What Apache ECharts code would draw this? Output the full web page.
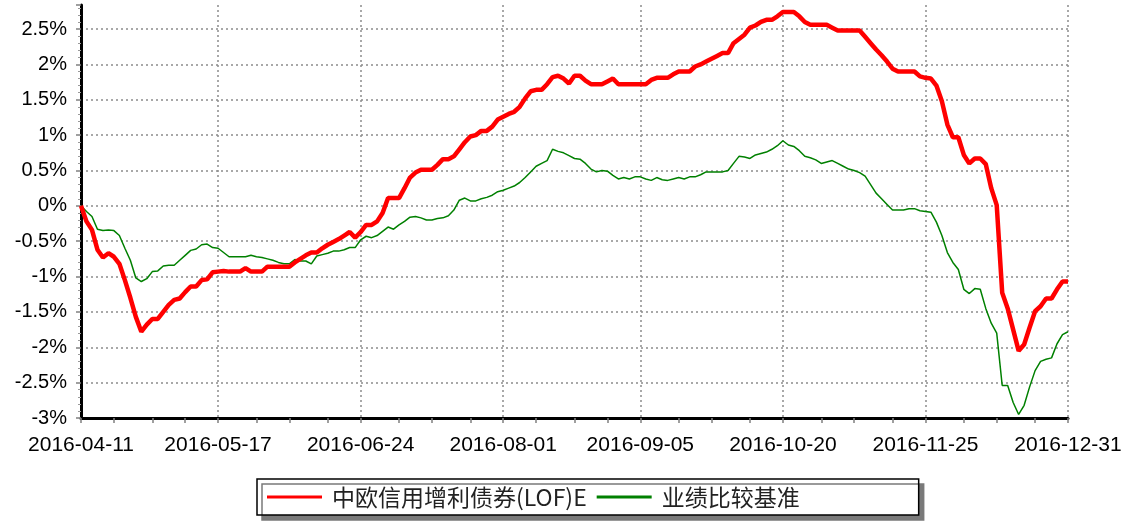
<!DOCTYPE html>
<html><head><meta charset="utf-8">
<script src="https://cdn.jsdelivr.net/npm/echarts@6/dist/echarts.min.js"></script>
<style>html,body{margin:0;padding:0;background:#fff}#c{width:1125px;height:521px}</style>
</head><body><div id="c"></div>
<script>
const dates = [
'2016-04-11','2016-04-12','2016-04-13','2016-04-14','2016-04-15','2016-04-18','2016-04-19','2016-04-20','2016-04-21','2016-04-22','2016-04-25','2016-04-26','2016-04-27','2016-04-28','2016-04-29',
'2016-05-03','2016-05-04','2016-05-05','2016-05-06','2016-05-09','2016-05-10','2016-05-11','2016-05-12','2016-05-13','2016-05-16','2016-05-17','2016-05-18','2016-05-19','2016-05-20','2016-05-23','2016-05-24','2016-05-25','2016-05-26','2016-05-27','2016-05-30','2016-05-31',
'2016-06-01','2016-06-02','2016-06-03','2016-06-06','2016-06-07','2016-06-08','2016-06-13','2016-06-14','2016-06-15','2016-06-16','2016-06-17','2016-06-20','2016-06-21','2016-06-22','2016-06-23','2016-06-24','2016-06-27','2016-06-28','2016-06-29','2016-06-30',
'2016-07-01','2016-07-04','2016-07-05','2016-07-06','2016-07-07','2016-07-08','2016-07-11','2016-07-12','2016-07-13','2016-07-14','2016-07-15','2016-07-18','2016-07-19','2016-07-20','2016-07-21','2016-07-22','2016-07-25','2016-07-26','2016-07-27','2016-07-28','2016-07-29',
'2016-08-01','2016-08-02','2016-08-03','2016-08-04','2016-08-05','2016-08-08','2016-08-09','2016-08-10','2016-08-11','2016-08-12','2016-08-15','2016-08-16','2016-08-17','2016-08-18','2016-08-19','2016-08-22','2016-08-23','2016-08-24','2016-08-25','2016-08-26','2016-08-29','2016-08-30','2016-08-31',
'2016-09-01','2016-09-02','2016-09-05','2016-09-06','2016-09-07','2016-09-08','2016-09-09','2016-09-12','2016-09-13','2016-09-14','2016-09-19','2016-09-20','2016-09-21','2016-09-22','2016-09-23','2016-09-26','2016-09-27','2016-09-28','2016-09-29','2016-09-30',
'2016-10-10','2016-10-11','2016-10-12','2016-10-13','2016-10-14','2016-10-17','2016-10-18','2016-10-19','2016-10-20','2016-10-21','2016-10-24','2016-10-25','2016-10-26','2016-10-27','2016-10-28','2016-10-31',
'2016-11-01','2016-11-02','2016-11-03','2016-11-04','2016-11-07','2016-11-08','2016-11-09','2016-11-10','2016-11-11','2016-11-14','2016-11-15','2016-11-16','2016-11-17','2016-11-18','2016-11-21','2016-11-22','2016-11-23','2016-11-24','2016-11-25','2016-11-28','2016-11-29','2016-11-30',
'2016-12-01','2016-12-02','2016-12-05','2016-12-06','2016-12-07','2016-12-08','2016-12-09','2016-12-12','2016-12-13','2016-12-14','2016-12-15','2016-12-16','2016-12-19','2016-12-20','2016-12-21','2016-12-22','2016-12-23','2016-12-26','2016-12-27','2016-12-28','2016-12-29','2016-12-30','2016-12-31'
];
const tickDates = ['2016-04-11','2016-05-17','2016-06-24','2016-08-01','2016-09-05','2016-10-20','2016-11-25','2016-12-31'];
const fundName = '中欧信用增利债券(LOF)E';
const benchName = '业绩比较基准';
// cumulative return, %
const fundReturn = [
0,-0.22,-0.34,-0.62,-0.73,-0.67,-0.72,-0.82,-1.05,-1.30,-1.57,-1.78,-1.68,-1.60,-1.60,-1.50,-1.40,-1.33,-1.31,-1.22,
-1.14,-1.14,-1.05,-1.04,-0.94,-0.93,-0.92,-0.93,-0.93,-0.93,-0.88,-0.93,-0.93,-0.93,-0.86,-0.86,-0.86,-0.86,-0.86,-0.80,
-0.75,-0.70,-0.66,-0.66,-0.60,-0.55,-0.51,-0.47,-0.42,-0.37,-0.45,-0.37,-0.27,-0.27,-0.22,-0.10,0.11,0.11,0.11,0.25,
0.40,0.47,0.51,0.51,0.51,0.58,0.66,0.66,0.70,0.80,0.90,0.98,1.00,1.06,1.06,1.12,1.22,1.26,1.30,1.33,
1.40,1.52,1.62,1.64,1.64,1.72,1.82,1.84,1.80,1.73,1.84,1.84,1.77,1.72,1.72,1.72,1.76,1.80,1.72,1.72,
1.72,1.72,1.72,1.72,1.78,1.81,1.81,1.81,1.86,1.90,1.90,1.90,1.97,2.00,2.04,2.08,2.12,2.16,2.16,2.30,
2.36,2.42,2.52,2.55,2.60,2.63,2.63,2.68,2.74,2.74,2.74,2.68,2.60,2.56,2.56,2.56,2.56,2.52,2.48,2.48,
2.48,2.48,2.48,2.39,2.30,2.21,2.13,2.04,1.94,1.90,1.90,1.90,1.90,1.83,1.81,1.80,1.70,1.48,1.15,0.97,
0.97,0.72,0.60,0.67,0.67,0.59,0.25,0.01,-1.23,-1.45,-1.75,-2.05,-1.96,-1.72,-1.49,-1.42,-1.31,-1.31,-1.18,-1.07,
-1.07
];
const benchReturn = [
0,-0.08,-0.15,-0.33,-0.35,-0.34,-0.35,-0.42,-0.60,-0.77,-1.02,-1.07,-1.03,-0.93,-0.92,-0.85,-0.84,-0.84,-0.77,-0.70,
-0.63,-0.61,-0.55,-0.54,-0.59,-0.60,-0.66,-0.72,-0.72,-0.72,-0.72,-0.70,-0.72,-0.73,-0.75,-0.77,-0.80,-0.82,-0.82,-0.76,
-0.78,-0.78,-0.82,-0.71,-0.69,-0.67,-0.64,-0.64,-0.62,-0.59,-0.59,-0.48,-0.43,-0.45,-0.42,-0.36,-0.30,-0.33,-0.27,-0.22,
-0.16,-0.15,-0.17,-0.20,-0.20,-0.18,-0.17,-0.14,-0.06,0.08,0.11,0.07,0.07,0.10,0.12,0.15,0.20,0.22,0.25,0.28,
0.33,0.40,0.48,0.56,0.60,0.64,0.80,0.77,0.75,0.71,0.67,0.66,0.60,0.52,0.48,0.50,0.49,0.43,0.38,0.40,
0.38,0.41,0.41,0.38,0.36,0.40,0.37,0.36,0.38,0.40,0.38,0.41,0.41,0.44,0.48,0.48,0.48,0.48,0.50,0.60,
0.70,0.69,0.67,0.72,0.74,0.76,0.80,0.85,0.92,0.86,0.84,0.78,0.70,0.68,0.65,0.60,0.62,0.64,0.60,0.56,
0.52,0.50,0.47,0.42,0.30,0.18,0.10,0.02,-0.06,-0.06,-0.06,-0.04,-0.04,-0.07,-0.08,-0.09,-0.23,-0.42,-0.66,-0.80,
-0.90,-1.18,-1.24,-1.17,-1.18,-1.45,-1.66,-1.80,-2.54,-2.54,-2.78,-2.95,-2.82,-2.56,-2.33,-2.20,-2.17,-2.15,-1.95,-1.82,
-1.78
];

const majorIdx = tickDates.map(d => dates.indexOf(d));
const tickIdx = new Set(majorIdx);
for (let i = 0; i < majorIdx.length - 1; i++) {
  const a = majorIdx[i], b = majorIdx[i + 1];
  for (let k = 1; k <= 3; k++) tickIdx.add(a + Math.round(k * (b - a) / 4));
}
const majorSet = new Set(majorIdx);

const chart = echarts.init(document.getElementById('c'));
chart.setOption({
  animation: false,
  backgroundColor: '#fff',
  grid: { left: 81, right: 57, top: 5, bottom: 103, containLabel: false },
  legend: {
    left: 257, top: 479,
    orient: 'horizontal',
    itemWidth: 55, itemHeight: 3, itemGap: 10,
    padding: [6, 119, 6, 10],
    backgroundColor: '#fff',
    borderColor: '#000', borderWidth: 1.5,
    shadowColor: '#7a7a7a', shadowBlur: 0, shadowOffsetX: 5, shadowOffsetY: 5,
    textStyle: { fontFamily: 'Noto Sans CJK SC', fontSize: 23, color: '#222', padding: [0, 0, 0, 5], lineHeight: 24 },
    data: [
      { name: fundName, icon: 'rect' },
      { name: benchName, icon: 'rect' }
    ]
  },
  xAxis: {
    type: 'category',
    data: dates,
    boundaryGap: false,
    axisLine: { onZero: false, lineStyle: { color: '#000', width: 3 } },
    axisTick: { show: true, length: 5, interval: (i) => tickIdx.has(i), lineStyle: { color: '#808080', width: 1.5 } },
    axisLabel: {
      interval: (i) => majorSet.has(i),
      margin: 17, color: '#000', fontFamily: 'Liberation Sans', fontSize: 21,
      showMaxLabel: true, hideOverlap: false
    },
    splitLine: { show: true, interval: (i) => majorSet.has(i), lineStyle: { color: '#8c8c8c', type: [2, 3], width: 1.5 } }
  },
  yAxis: {
    type: 'value',
    min: -3, max: 2.84, interval: 0.5,
    axisLine: { show: true, onZero: false, lineStyle: { color: '#000', width: 3 } },
    axisTick: { show: true, length: 5, lineStyle: { color: '#808080', width: 1.5 } },
    minorTick: { show: true, splitNumber: 5, length: 3, lineStyle: { color: '#999' } },
    axisLabel: {
      margin: 14, color: '#000', fontFamily: 'Liberation Sans', fontSize: 20,
      showMaxLabel: false,
      formatter: (v) => {
        const r = Math.round(v * 2) / 2;
        if (Math.abs(r - v) > 1e-6) return '';
        return String(Number(r.toFixed(1))) + '%';
      }
    },
    splitLine: { show: true, showMaxLine: false, lineStyle: { color: '#8c8c8c', type: [2, 3], width: 1.5 } }
  },
  series: [
    { name: fundName, type: 'line', data: fundReturn, symbol: 'none', z: 3,
      lineStyle: { color: '#ff0000', width: 4.5 }, itemStyle: { color: '#ff0000' } },
    { name: benchName, type: 'line', data: benchReturn, symbol: 'none', z: 2,
      lineStyle: { color: '#008000', width: 1.5 }, itemStyle: { color: '#008000' } }
  ]
});
</script>
</body></html>
